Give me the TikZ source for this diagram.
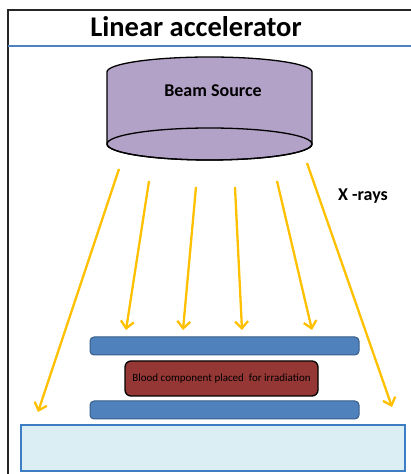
\documentclass[tikz,border=0pt]{standalone}
\usepackage{fontspec}
\setmainfont{Carlito}
\usetikzlibrary{arrows.meta}

\definecolor{rayorange}{HTML}{FFC000}
\definecolor{sourcepurple}{HTML}{B3A2C7}
\definecolor{platefill}{HTML}{4F81BD}
\definecolor{plateline}{HTML}{385D8A}
\definecolor{bloodred}{HTML}{953735}
\definecolor{tablefill}{HTML}{DBEEF4}
\definecolor{tableline}{HTML}{3C7DC4}

\begin{document}
\begin{tikzpicture}[
			x=1pt, y=1pt,
			ray/.style = {draw=rayorange, line width=2.3pt, -{Straight Barb[length=7pt, width=13pt, line width=2.3pt]}},
			plate/.style = {draw=plateline, fill=platefill, line width=1pt, rounded corners=4pt, minimum width=269pt, minimum height=18pt, inner sep=0pt},
			blood/.style = {draw=black, fill=bloodred, line width=1.3pt, rounded corners=6pt, minimum width=193pt, minimum height=35pt, inner sep=0pt, font=\fontsize{11}{13}\selectfont},
			label/.style = {font=\bfseries\fontsize{18}{21}\selectfont}
		]
		\useasboundingbox (0,0) rectangle (411,474);
		% Frame and title.
		\draw[color=black!85, line width=1.5pt] (8,0) -- (8,464) -- (411,464);
		\draw[color=platefill, line width=2pt] (8,428) -- (411,428);
		\node[font=\bfseries\fontsize{28.5}{33}\selectfont] (title) at (196,447) {Linear accelerator};
		% Beam source.
		\draw[fill=sourcepurple, line width=1.3pt] (107,402) -- (107,330)
			arc[start angle=180, end angle=360, x radius=102.5, y radius=16]
			-- (312,402)
			arc[start angle=0, end angle=180, x radius=102.5, y radius=15];
		\draw[line width=1.3pt] (209.5,330) ellipse[x radius=102.5, y radius=16];
		\node[label] (source) at (213,383) {Beam Source};
		\node[label] (xrays) at (363,278) {X -rays};
		% Plates, blood bag and table.
		\node[plate] (upper) at (224.5,128) {};
		\node[blood] (bag) at (221.5,95.5) {Blood component placed\ \ for irradiation};
		\node[plate] (lower) at (224.5,64) {};
		\node[draw=tableline, fill=tablefill, line width=1.8pt, minimum width=384pt, minimum height=46pt, inner sep=0pt] (table) at (213,26) {};
		% Rays.
		\coordinate (s1) at (119,305);
		\coordinate (s2) at (149,293);
		\coordinate (s3) at (196,287);
		\coordinate (s4) at (235,287);
		\coordinate (s5) at (277,293);
		\coordinate (s6) at (307,311);
		\coordinate (e1) at (38,62);
		\coordinate (e2) at (126,144);
		\coordinate (e3) at (183,144);
		\coordinate (e4) at (242,144);
		\coordinate (e5) at (312,144);
		\coordinate (e6) at (392,67);

		\draw[ray] (s1) to (e1);
		\draw[ray] (s2) to (e2);
		\draw[ray] (s3) to (e3);
		\draw[ray] (s4) to (e4);
		\draw[ray] (s5) to (e5);
		\draw[ray] (s6) to (e6);
	\end{tikzpicture}
\end{document}
